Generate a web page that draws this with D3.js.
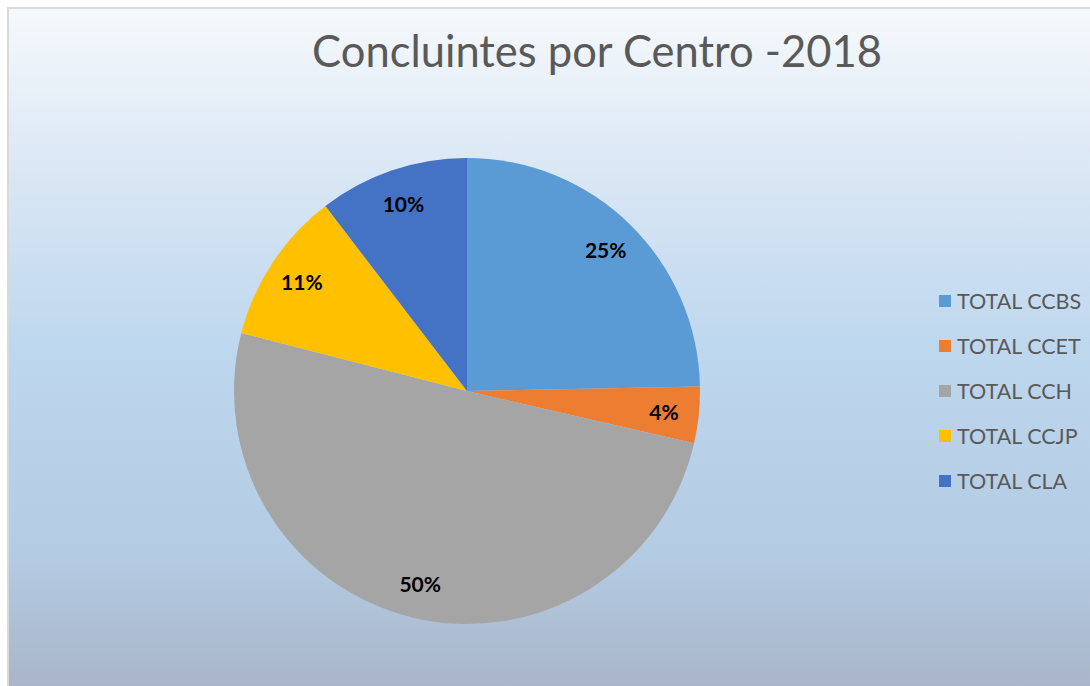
<!DOCTYPE html>
<html>
<head>
<meta charset="utf-8">
<script src="https://cdn.jsdelivr.net/npm/d3@7"></script>
<style>
  html, body { margin: 0; padding: 0; background: #ffffff; }
  svg { display: block; }
</style>
</head>
<body>
<svg id="chart"></svg>
<script>
// data (share of concluintes per centro)
const categories = ['TOTAL CCBS', 'TOTAL CCET', 'TOTAL CCH', 'TOTAL CCJP', 'TOTAL CLA'];
const values = [24.7, 3.9, 50.4, 10.6, 10.4];
const colors = ['#5b9bd5', '#ed7d31', '#a5a5a5', '#ffc000', '#4472c4'];

const data = categories.map((c, i) => ({ name: c, value: values[i], color: colors[i] }));

var width = 1090;
var height = 686;

var svg = d3.select('#chart')
  .attr('width', width)
  .attr('height', height);

// background gradient
var defs = svg.append('defs');
var grad = defs.append('linearGradient')
  .attr('id', 'bg')
  .attr('x1', 0).attr('y1', 0).attr('x2', 0).attr('y2', 1);
grad.append('stop').attr('offset', '0%').attr('stop-color', '#f6f9fc');
grad.append('stop').attr('offset', '22%').attr('stop-color', '#dce8f5');
grad.append('stop').attr('offset', '50%').attr('stop-color', '#bdd7ee');
grad.append('stop').attr('offset', '80%').attr('stop-color', '#b3cbe3');
grad.append('stop').attr('offset', '100%').attr('stop-color', '#a9b4c7');

// chart area with grey border
svg.append('rect')
  .attr('x', 8).attr('y', 8)
  .attr('width', width).attr('height', height)
  .attr('fill', 'url(#bg)')
  .attr('stroke', '#d9d9d9')
  .attr('stroke-width', 2);

// title
svg.append('text')
  .attr('x', 597)
  .attr('y', 67)
  .attr('text-anchor', 'middle')
  .style('font-family', 'Lato, "Open Sans", sans-serif')
  .style('font-size', '43.5px')
  .style('fill', '#595959')
  .text('Concluintes por Centro -2018');

// pie
var cx = 467, cy = 391, radius = 233;

var pie = d3.pie()
  .sort(null)
  .value(d => d.value);

var arc = d3.arc()
  .innerRadius(0)
  .outerRadius(radius);

var labelArc = d3.arc()
  .innerRadius(radius * 0.85)
  .outerRadius(radius * 0.85);

var total = d3.sum(values);
var arcs = pie(data);

var g = svg.append('g')
  .attr('transform', 'translate(' + cx + ',' + cy + ')');

g.selectAll('path.slice')
  .data(arcs)
  .join('path')
    .attr('class', 'slice')
    .attr('d', arc)
    .attr('fill', d => d.data.color);

g.selectAll('text.pct')
  .data(arcs)
  .join('text')
    .attr('class', 'pct')
    .attr('transform', d => 'translate(' + labelArc.centroid(d) + ')')
    .attr('text-anchor', 'middle')
    .attr('dy', '0.4em')
    .style('font-family', 'Lato, "Open Sans", sans-serif')
    .style('font-size', '21px')
    .style('font-weight', 'bold')
    .style('fill', '#000000')
    .text(d => Math.round(d.data.value / total * 100) + '%');

// legend
var legend = svg.append('g')
  .attr('transform', 'translate(939,301)');

var item = legend.selectAll('g.item')
  .data(data)
  .join('g')
    .attr('class', 'item')
    .attr('transform', (d, i) => 'translate(0,' + (i * 45) + ')');

item.append('rect')
  .attr('x', 0).attr('y', -6)
  .attr('width', 12).attr('height', 12)
  .attr('fill', d => d.color);

item.append('text')
  .attr('x', 18)
  .attr('dy', '0.36em')
  .style('font-family', 'Lato, "Open Sans", sans-serif')
  .style('font-size', '21.5px')
  .style('fill', '#595959')
  .text(d => d.name);
</script>
</body>
</html>
